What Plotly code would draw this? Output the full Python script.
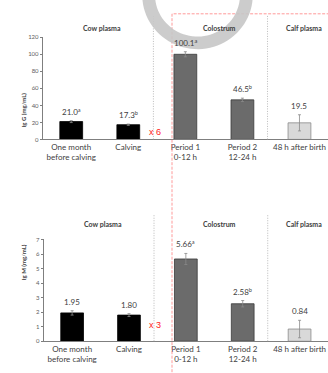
import numpy as np
import plotly.graph_objects as go

# ---- data ----
categories = ["One month<br>before calving", "Calving", "Period 1<br>0-12 h", "Period 2<br>12-24 h", "48 h after birth"]
igg_values = [21.0, 17.3, 100.1, 46.5, 19.5]
igg_errors = [1.2, 0.8, 3.0, 2.0, 9.5]
igg_labels = ["21.0<sup>a</sup>", "17.3<sup>b</sup>", "100.1<sup>a</sup>", "46.5<sup>b</sup>", "19.5"]
igm_values = [1.95, 1.80, 5.66, 2.58, 0.84]
igm_errors = [0.15, 0.10, 0.38, 0.22, 0.60]
igm_labels = ["1.95", "1.80", "5.66<sup>a</sup>", "2.58<sup>b</sup>", "0.84"]
igg_ticks = [0, 20, 40, 60, 80, 100, 120]
igm_ticks = [0, 1, 2, 3, 4, 5, 6, 7]
sections = ["Cow plasma", "Colostrum", "Calf plasma"]

W, H = 328, 373
fill_colors = ["#000000", "#000000", "#6b6b6b", "#6b6b6b", "#d9d9d9"]
line_colors = ["#000000", "#000000", "#3a3a3a", "#3a3a3a", "#8a8a8a"]
txt = "#404040"
FONT = "Lato"

xs = list(range(len(categories)))

fig = go.Figure()

def px(x):
    return x / W

def py(y):
    return 1 - y / H

for vals, errs, labs, xa, ya in [
    (igg_values, igg_errors, igg_labels, "x", "y"),
    (igm_values, igm_errors, igm_labels, "x2", "y2"),
]:
    fig.add_trace(go.Bar(
        x=xs, y=vals, width=0.4,
        marker=dict(color=fill_colors, line=dict(color=line_colors, width=0.8)),
        error_y=dict(type="data", array=errs, color="#8a8a8a", thickness=0.8, width=1.5),
        xaxis=xa, yaxis=ya, showlegend=False, hoverinfo="skip",
    ))
    for i, (v, e, l) in enumerate(zip(vals, errs, labs)):
        fig.add_annotation(x=i, y=v + e, text=l, xref=xa, yref=ya,
                           yanchor="bottom", yshift=2, showarrow=False,
                           font=dict(family=FONT, size=8, color=txt))

axis_common = dict(showgrid=False, zeroline=False, showline=True, linecolor="#7f7f7f",
                   linewidth=0.8)

fig.update_layout(
    width=W, height=H,
    margin=dict(l=0, r=0, t=0, b=0),
    plot_bgcolor="white", paper_bgcolor="white",
    font=dict(family=FONT, size=8, color=txt),
    xaxis=dict(domain=[px(42.7), 1.0], range=[-0.5, 4.5], tickvals=xs, ticktext=categories,
               ticks="", tickfont=dict(family=FONT, size=8, color=txt), anchor="y", **axis_common),
    yaxis=dict(domain=[py(138), py(34)], range=[0, 120], tickvals=igg_ticks, ticks="outside",
               ticklen=2, tickcolor="#7f7f7f", tickfont=dict(family=FONT, size=6, color="#606060"),
               anchor="x", **axis_common),
    xaxis2=dict(domain=[px(43.7), 1.0], range=[-0.5, 4.5], tickvals=xs, ticktext=categories,
                ticks="", tickfont=dict(family=FONT, size=8, color=txt), anchor="y2", **axis_common),
    yaxis2=dict(domain=[py(343.7), py(240)], range=[0, 7], tickvals=igm_ticks, ticks="outside",
                ticklen=2, tickcolor="#7f7f7f", tickfont=dict(family=FONT, size=6, color="#606060"),
                anchor="x2", **axis_common),
)

# y-axis titles
fig.add_annotation(x=px(18), y=py(88), xref="paper", yref="paper", text="<b>Ig G (mg/mL)</b>",
                   textangle=-90, showarrow=False, font=dict(family=FONT, size=6, color=txt))
fig.add_annotation(x=px(18), y=py(284), xref="paper", yref="paper", text="<b>Ig M (mg/mL)</b>",
                   textangle=-90, showarrow=False, font=dict(family=FONT, size=6, color=txt))

# section labels and separators
sec_x = [0.54, 2.59, 4.08]
for xa, top_py, bot_py, lab_py in [("x", 12, 138, 18), ("x2", 215, 343.7, 224)]:
    for s, sx in zip(sections, sec_x):
        fig.add_annotation(x=sx, y=py(lab_py), xref=xa, yref="paper", text="<b>" + s + "</b>",
                           showarrow=False, font=dict(family=FONT, size=7, color=txt))
    for sep in [1.44, 3.44]:
        fig.add_shape(type="line", x0=sep, x1=sep, y0=py(bot_py), y1=py(top_py), xref=xa, yref="paper",
                      line=dict(color="#a8a8a8", width=0.8, dash="1px,1.5px"))

# red multiplier notes
fig.add_annotation(x=px(155), y=py(130), xref="paper", yref="paper", text="x 6", showarrow=False,
                   font=dict(family="Liberation Sans", size=9, color="#ff2020"))
fig.add_annotation(x=px(155), y=py(334), xref="paper", yref="paper", text="x 3", showarrow=False,
                   font=dict(family="Liberation Sans", size=9, color="#ff2020"))

# red dashed frame
fig.add_shape(type="rect", x0=px(172), x1=1.02, y0=-0.02, y1=py(10), xref="paper", yref="paper",
              line=dict(color="#ff8080", width=0.8, dash="3px,1.5px"))

# grey ring watermark
cx, cy, ro, ri = 197.5, -9.3, 55.3, 42.5
t = np.linspace(0, 2 * np.pi, 90)
outer = " L ".join(f"{px(cx + ro*np.cos(a)):.4f},{py(cy + ro*np.sin(a)):.4f}" for a in t)
inner = " L ".join(f"{px(cx + ri*np.cos(a)):.4f},{py(cy + ri*np.sin(a)):.4f}" for a in t[::-1])
fig.add_shape(type="path", path=f"M {outer} Z M {inner} Z", xref="paper", yref="paper",
              fillcolor="#c6c6c6", line=dict(width=0), fillrule="evenodd", layer="above", opacity=0.9)

fig.write_html("out.html", config={"displayModeBar": False},
               post_script="document.body.style.margin='0';document.body.style.overflow='hidden';")
